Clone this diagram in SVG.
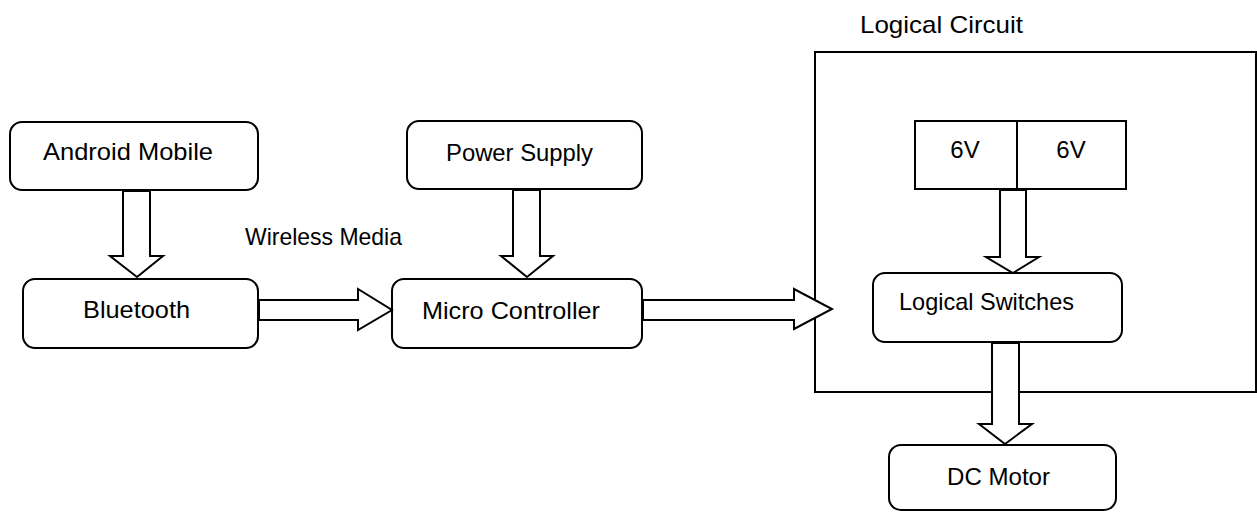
<svg xmlns="http://www.w3.org/2000/svg" width="1257" height="512" viewBox="0 0 1257 512">
<style>
.box{fill:#fff;stroke:#000;stroke-width:2}
.arr{fill:#fff;stroke:#000;stroke-width:2;stroke-linejoin:miter}
.frame{fill:none;stroke:#000;stroke-width:2}
text{font-family:"Liberation Sans",Arial,sans-serif;font-size:24px;fill:#000}
</style>
<rect width="1257" height="512" fill="#fff"/>
<g id="logical-circuit">
<rect class="frame" x="815" y="52" width="441" height="340"/>
<text x="860" y="33" textLength="163" lengthAdjust="spacingAndGlyphs">Logical Circuit</text>
</g>
<g id="android-mobile">
<rect class="box" x="10" y="122" width="248" height="68" rx="12"/>
<text x="43" y="160" textLength="170" lengthAdjust="spacingAndGlyphs">Android Mobile</text>
</g>
<g id="bluetooth">
<rect class="box" x="23" y="279" width="235" height="69" rx="12"/>
<text x="83" y="318" textLength="107" lengthAdjust="spacingAndGlyphs">Bluetooth</text>
</g>
<g id="power-supply">
<rect class="box" x="407" y="121" width="235" height="68" rx="12"/>
<text x="446" y="161" textLength="147" lengthAdjust="spacingAndGlyphs">Power Supply</text>
</g>
<g id="micro-controller">
<rect class="box" x="392" y="279" width="250" height="69" rx="12"/>
<text x="422" y="319" textLength="178" lengthAdjust="spacingAndGlyphs">Micro Controller</text>
</g>
<g id="battery-1">
<rect class="box" x="915" y="121" width="102" height="68"/>
<text x="965" y="158" text-anchor="middle">6V</text>
</g>
<g id="battery-2">
<rect class="box" x="1017" y="121" width="109" height="68"/>
<text x="1071" y="158" text-anchor="middle">6V</text>
</g>
<g id="logical-switches">
<rect class="box" x="873" y="273" width="249" height="69" rx="12"/>
<text x="899" y="310" textLength="175" lengthAdjust="spacingAndGlyphs">Logical Switches</text>
</g>
<g id="dc-motor">
<rect class="box" x="889" y="445" width="227" height="65" rx="12"/>
<text x="947" y="485" textLength="103" lengthAdjust="spacingAndGlyphs">DC Motor</text>
</g>
<g id="wireless-label">
<text x="245" y="245" textLength="157" lengthAdjust="spacingAndGlyphs">Wireless Media</text>
</g>
<g id="connectors">
<polygon class="arr" points="123,191 150,191 150,256 163,256 137,277 110,256 123,256"/>
<polygon class="arr" points="513,190 540,190 540,256 553,256 527,277 501,256 513,256"/>
<polygon class="arr" points="259,300 358,300 358,289 392,310 358,330 358,320 259,320"/>
<polygon class="arr" points="643,300 794,300 794,289 832,309 794,329 794,320 643,320"/>
<polygon class="arr" points="1000,190 1026,190 1026,257 1039,257 1013,273 986,257 1000,257"/>
<polygon class="arr" points="992,343 1019,343 1019,424 1032,424 1005,444 979,424 992,424"/>
</g>
</svg>
